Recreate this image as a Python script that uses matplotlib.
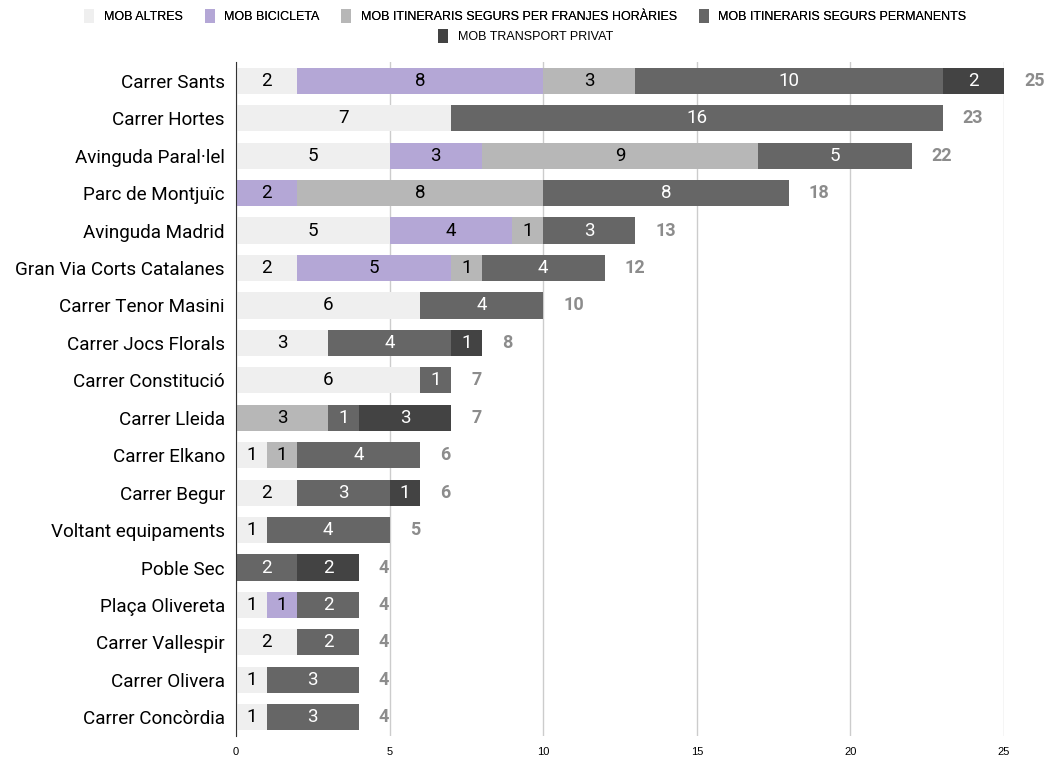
import matplotlib
matplotlib.use("Agg")
import matplotlib.pyplot as plt
import numpy as np
from matplotlib.patches import Patch

categories = ["Carrer Sants", "Carrer Hortes", "Avinguda Paral·lel", "Parc de Montjuïc",
              "Avinguda Madrid", "Gran Via Corts Catalanes", "Carrer Tenor Masini",
              "Carrer Jocs Florals", "Carrer Constitució", "Carrer Lleida", "Carrer Elkano",
              "Carrer Begur", "Voltant equipaments", "Poble Sec", "Plaça Olivereta",
              "Carrer Vallespir", "Carrer Olivera", "Carrer Concòrdia"]

altres = [2, 7, 5, 0, 5, 2, 6, 3, 6, 0, 1, 2, 1, 0, 1, 2, 1, 1]
bicicleta = [8, 0, 3, 2, 4, 5, 0, 0, 0, 0, 0, 0, 0, 0, 1, 0, 0, 0]
franjes = [3, 0, 9, 8, 1, 1, 0, 0, 0, 3, 1, 0, 0, 0, 0, 0, 0, 0]
permanents = [10, 16, 5, 8, 3, 4, 4, 4, 1, 1, 4, 3, 4, 2, 2, 2, 3, 3]
privat = [2, 0, 0, 0, 0, 0, 0, 1, 0, 3, 0, 1, 0, 2, 0, 0, 0, 0]

series_names = ["MOB ALTRES", "MOB BICICLETA", "MOB ITINERARIS SEGURS PER FRANJES HORÀRIES",
                "MOB ITINERARIS SEGURS PERMANENTS", "MOB TRANSPORT PRIVAT"]
series = [altres, bicicleta, franjes, permanents, privat]
colors = ["#efefef", "#b4a7d6", "#b7b7b7", "#666666", "#434343"]
text_colors = ["#000000", "#000000", "#000000", "#ffffff", "#ffffff"]

fig = plt.figure(figsize=(10.51, 7.63), dpi=100)
ax = fig.add_axes([236 / 1051, 0.0354, (1004 - 236) / 1051, 0.8833])

y = np.arange(len(categories))
left = np.zeros(len(categories))
for vals, col, tcol in zip(series, colors, text_colors):
    vals = np.array(vals, dtype=float)
    ax.barh(y, vals, left=left, height=0.7, color=col, zorder=3)
    for yi, v, l in zip(y, vals, left):
        if v > 0:
            ax.text(l + v / 2, yi, f"{int(v)}", ha="center", va="center",
                    color=tcol, fontsize=13.5, family="Roboto", zorder=4)
    left += vals

for yi, tot in zip(y, left):
    ax.text(tot + 0.65, yi, f"{int(tot)}", ha="left", va="center", color="#8c8c8c",
            fontsize=13, fontweight="bold", family="Roboto", clip_on=False)

ax.set_ylim(len(categories) - 0.5, -0.5)
ax.set_xlim(0, 25)
ax.set_yticks(y)
ax.set_yticklabels(categories, fontsize=13.6, family="Roboto")
ax.set_xticks([0, 5, 10, 15, 20, 25])
ax.set_xticklabels(["0", "5", "10", "15", "20", "25"], fontsize=8, family="Liberation Sans")
ax.tick_params(axis="y", length=0, pad=8)
ax.tick_params(axis="x", length=0, pad=8)
ax.grid(axis="x", color="#cccccc", linewidth=1, zorder=0)
for s in ["top", "right", "bottom"]:
    ax.spines[s].set_visible(False)
ax.spines["left"].set_color("#333333")
ax.spines["left"].set_zorder(5)

handles = [Patch(facecolor=c, edgecolor="none") for c in colors]
leg1 = fig.legend(handles[:4], series_names[:4], loc="center", bbox_to_anchor=(0.5, 1 - 16 / 763),
                  ncol=4, frameon=False, prop={"family": "Liberation Sans", "size": 9},
                  handlelength=0.8, handleheight=1.3, handletextpad=0.8, columnspacing=1.7)
leg2 = fig.legend(handles[4:], series_names[4:], loc="center", bbox_to_anchor=(0.5, 1 - 36 / 763),
                  ncol=1, frameon=False, prop={"family": "Liberation Sans", "size": 9},
                  handlelength=0.8, handleheight=1.3, handletextpad=0.8)
fig.add_artist(leg1)

fig.savefig("out.png", dpi=100, facecolor="white")
